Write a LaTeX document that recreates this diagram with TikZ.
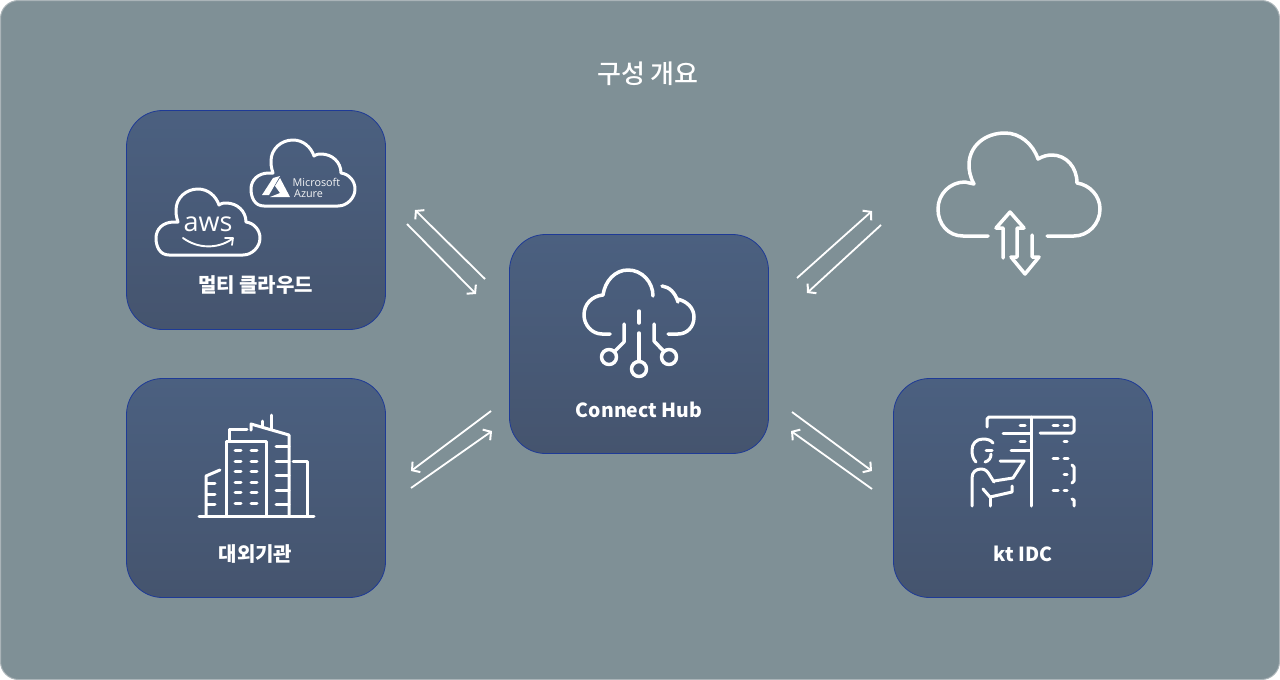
\documentclass[tikz,border=0pt]{standalone}
\usepackage{fontspec}
\setmainfont{Noto Sans CJK KR}
\newfontfamily\medfont{Noto Sans CJK KR Medium}
\newfontfamily\latinfont{Open Sans}
\usetikzlibrary{arrows.meta,shadings}
\definecolor{bgc}{RGB}{127,144,150}
\definecolor{edgec}{RGB}{170,180,184}
\definecolor{topc}{RGB}{75,96,128}
\definecolor{botc}{RGB}{69,84,110}
\definecolor{boxedge}{RGB}{30,58,150}
\tikzset{
  panel/.style={draw=boxedge,line width=0.8pt,top color=topc,bottom color=botc,middle color=topc!50!botc,
    rounded corners=36pt,minimum width=259pt,minimum height=219pt,inner sep=0pt},
  lbl/.style={text=white,font=\bfseries\fontsize{20}{22}\selectfont,inner sep=0pt,anchor=center},
  latinlbl/.style={text=white,font=\bfseries\fontsize{19.4}{22}\selectfont,inner sep=0pt,anchor=center},
  icon/.style={draw=white,line width=3.5pt,line cap=round,line join=round},
  thin icon/.style={draw=white,line width=3pt,line cap=round,line join=round},
  flow/.style={draw=white,line width=1.8pt,-{Straight Barb[length=5.5pt,width=13pt,line width=2pt]}},
}
\newcommand{\cloudoutline}{
  (169,255) .. controls (160,255) and (156,247) .. (156,238)
  .. controls (156,229) and (163,222) .. (174,222) -- (178,222)
  .. controls (176,216) and (176,213) .. (176,210)
  .. controls (176,198) and (186,189) .. (198,189)
  .. controls (208,189) and (216,196) .. (219,205)
  .. controls (222,203) and (224,203) .. (226,203)
  .. controls (237,203) and (246,211) .. (246,222)
  .. controls (254,223) and (260,230) .. (260,238)
  .. controls (260,247) and (252,255) .. (243,255) -- cycle
}
\begin{document}
\begin{tikzpicture}[x=1pt,y=-1pt]
\useasboundingbox (0,0) rectangle (1280,680);
\fill[white] (0,0) rectangle (1280,680);
\draw[draw=edgec,fill=bgc,line width=1pt,rounded corners=18pt] (0.5,0.5) rectangle (1279.5,679.5);
\node[text=white,font=\medfont\fontsize{26}{28}\selectfont,inner sep=0pt] (title) at (648,74) {구성 개요};

% panels
\node[panel] (multi) at (256,220) {};
\node[panel] (hub) at (639,344) {};
\node[panel] (ext) at (256,488) {};
\node[panel] (idc) at (1023,488) {};

\node[lbl] (multilbl) at (255.5,285) {멀티 클라우드};
\node[latinlbl] (hublbl) at (639,410) {Connect Hub};
\node[lbl] (extlbl) at (255.5,554) {대외기관};
\node[latinlbl] (idclbl) at (1023,554) {kt IDC};

% multi cloud icons
\draw[thin icon] \cloudoutline;
\begin{scope}[shift={(95,-49)}]
\draw[thin icon] \cloudoutline;
\end{scope}
\node[text=white,font=\latinfont\fontsize{27}{27}\selectfont,inner sep=0pt] (awstxt) at (208,224) {aws};
\draw[white,line width=1.9pt,line cap=round] (183,238) .. controls (198,249) and (218,249) .. (232,239);
\draw[white,line width=1.7pt,line cap=round,line join=round] (225,238) -- (233,238) -- (232,245);
\fill[white] (262,195) -- (273,178) -- (280,176) -- (269,195) -- cycle;
\fill[white] (280,178) -- (290,197) -- (270,197) -- (280,193) -- (275,186) -- cycle;
\node[text=white!92!bgc,font=\latinfont\fontsize{10.8}{11}\selectfont,inner sep=0pt,anchor=base west] (mstxt) at (292.5,186) {Microsoft};
\node[text=white!92!bgc,font=\latinfont\fontsize{10.8}{11}\selectfont,inner sep=0pt,anchor=base west] (aztxt) at (294,197) {Azure};

% hub icon
\draw[icon] (610,334) -- (602,334) .. controls (592,334) and (584,325) .. (584,315)
  .. controls (584,304) and (592,296) .. (603,295)
  .. controls (605,281) and (615,270) .. (628,270)
  .. controls (642,270) and (653,282) .. (653,296);
\draw[icon] (662,286) .. controls (669,287) and (675,292) .. (678,302);
\draw[icon] (677,299) .. controls (687,301) and (694,308) .. (694,317)
  .. controls (694,327) and (687,334) .. (678,334) -- (668,334);
\draw[icon] (639,311) -- (639,323);
\draw[icon] (639,333) -- (639,361.5);
\draw[icon] (639,369) circle[radius=7.5pt];
\draw[icon] (624,324) -- (624,342) -- (614.5,351.5);
\draw[icon] (609,357) circle[radius=7.5pt];
\draw[icon] (654,324) -- (654,341) -- (663.5,351);
\draw[icon] (669,357) circle[radius=7.5pt];

% outer cloud
\draw[icon] (988,236) -- (963,236) .. controls (948,236) and (938,224) .. (938,209)
  .. controls (938,194) and (950,182) .. (965,182) -- (974,184)
  .. controls (970,177) and (969,170) .. (969,165)
  .. controls (969,146) and (985,133) .. (1005,133)
  .. controls (1020,133) and (1033,144) .. (1038,159)
  .. controls (1043,156) and (1048,155) .. (1052,155)
  .. controls (1066,155) and (1077,167) .. (1077,183)
  .. controls (1090,185) and (1100,196) .. (1100,209)
  .. controls (1100,224) and (1088,236) .. (1074,236) -- (1047,236);
\draw[icon] (1003,258) -- (1003,228) -- (996,228) -- (1010,212) -- (1024,228) -- (1017,228) -- (1017,257) -- (1011,257) -- (1025,274) -- (1039,257) -- (1032,257) -- (1032,235);

% building
\begin{scope}[thin icon]
\draw (199,516) -- (314,516);
\draw (226,515) -- (226,441) -- (266,441) -- (266,515);
\foreach \yy in {450,461,471,482,492,503} {
  \draw (235,\yy) -- (241,\yy);
  \draw (251,\yy) -- (257,\yy);
}
\draw (229,440) -- (229,429) -- (247,429);
\draw (251,430) -- (251,424) -- (289,435) -- (289,515);
\draw (262,421) -- (262,427);
\draw (271,415) -- (271,429);
\foreach \yy in {446,461,475,490,504} \draw (276,\yy) -- (289,\yy);
\draw (293,461) -- (307,461) -- (307,515);
\draw (206,515) -- (206,476) -- (220,470);
\foreach \yy in {483,494,504} \draw (207,\yy) -- (215,\yy);
\end{scope}

% idc icon
\begin{scope}[thin icon]
\draw (1031,417) -- (1031,506);
\draw (987,427) -- (987,419) -- (989,417) -- (1072,417) -- (1074,419) -- (1074,431) -- (1072,433) -- (1040,433);
\draw (1003,433) -- (1031,433);
\draw (1020,425) -- (1025,425);
\draw (1053,425) -- (1058,425);
\draw (1064,425) -- (1068,425);
\draw (1020,441) -- (1025,441);
\draw (1064,441) -- (1067,441);
\draw (1011,450) -- (1031,450);
\draw (1053,458) -- (1058,458);
\draw (1064,458) -- (1068,458);
\draw (1064,474) -- (1067,474);
\draw (1072,465) -- (1074,467) -- (1074,481) -- (1072,483);
\draw (1053,490) -- (1058,490);
\draw (1064,490) -- (1067,490);
\draw (1072,499) -- (1074,500) -- (1074,506);
\draw (993,443) .. controls (991,440) and (987,439) .. (983,439)
  .. controls (976,439) and (972,444) .. (972,450)
  .. controls (972,455) and (973,459) .. (976,462);
\draw (985,462) .. controls (989,461) and (991,458) .. (991,454);
\draw (986,450) -- (992,450);
\draw (972,506) -- (972,478) .. controls (972,472) and (976,469) .. (981,469)
  .. controls (985,469) and (987,471) .. (989,474) -- (994,482);
\draw (1000,461) -- (1024,461) -- (1013,478) -- (994,481);
\draw (983,489) -- (990,497) -- (1012,492) -- (1012,486);
\draw (990,497) -- (990,506);
\end{scope}

% connectors
\coordinate (a1s) at (485,279); \coordinate (a1e) at (415,210);
\coordinate (a2s) at (407,224); \coordinate (a2e) at (476,294);
\coordinate (b1s) at (491,411); \coordinate (b1e) at (411,471);
\coordinate (b2s) at (411,488); \coordinate (b2e) at (492,431);
\coordinate (c1s) at (797,278); \coordinate (c1e) at (872,211);
\coordinate (c2s) at (881,225); \coordinate (c2e) at (807,293);
\coordinate (d1s) at (792,412); \coordinate (d1e) at (872,471);
\coordinate (d2s) at (872,489); \coordinate (d2e) at (791,431);
\foreach \p in {a1,a2,b1,b2,c1,c2,d1,d2} \draw[flow] (\p s) -- (\p e);
\end{tikzpicture}
\end{document}
